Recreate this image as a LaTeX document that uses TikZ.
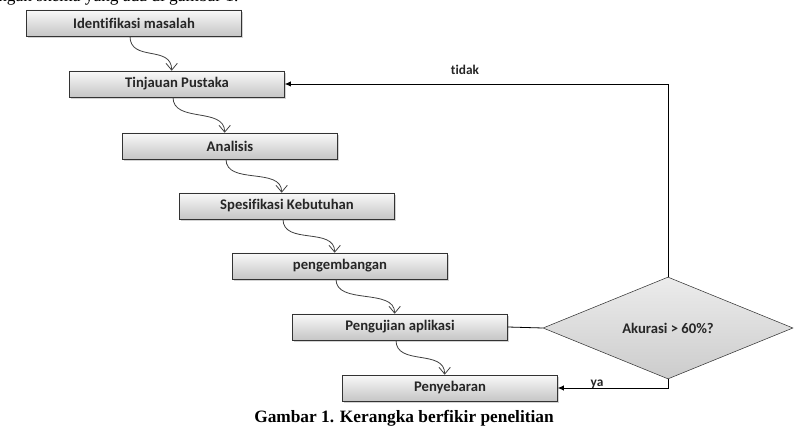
\documentclass[tikz,border=0pt]{standalone}
\usepackage{fontspec}
\setmainfont{Liberation Serif}
\newfontfamily\boxfont[Ligatures={NoCommon}]{Carlito}
\usetikzlibrary{shapes.geometric, arrows.meta, positioning, shadows}

\begin{document}
\begin{tikzpicture}[
    x=0.75pt, y=-0.75pt,
    stepbox/.style={rectangle, draw=black!80, top color=gray!5, bottom color=gray!45, minimum width=161.25pt, minimum height=19.5pt, font=\boxfont\bfseries\fontsize{11}{12}\selectfont, text=black!85, drop shadow={shadow xshift=1.2pt, shadow yshift=-1.2pt, opacity=0.35}},
    decision/.style={diamond, draw=black!80, top color=gray!15, bottom color=gray!40, minimum width=187.5pt, minimum height=46.5pt, inner sep=0pt, font=\boxfont\bfseries\fontsize{11}{12}\selectfont, text=black!85},
    flow/.style={-{Straight Barb[length=1.8mm, width=3mm]}, black!75, semithick},
    back/.style={-{Latex[length=1.6mm, width=1.4mm]}, black, semithick},
    lbl/.style={font=\boxfont\bfseries\fontsize{10}{12}\selectfont, text=black!85}
]
\useasboundingbox (0,0) rectangle (807,438);

% Text cut off at the top
\node[anchor=base west, inner sep=0pt, font=\fontsize{13}{15}\selectfont] (prev) at (-2,2) {ngan skema yang ada di gambar 1.};

% Steps
\node[stepbox] (id) at (134,23) {Identifikasi masalah};
\node[stepbox] (tp) at (177,84) {Tinjauan Pustaka};
\node[stepbox] (an) at (230,146) {Analisis};
\node[stepbox] (sk) at (287,206) {Spesifikasi Kebutuhan};
\node[stepbox] (pg) at (340,266) {pengembangan};
\node[stepbox] (pu) at (400,327) {Pengujian aplikasi};
\node[stepbox] (pb) at (450,388) {Penyebaran};

% Decision
\node[decision] (dec) at (668,328) {Akurasi > 60\%?};

% Curved arrows
\foreach \a/\b in {id/tp, tp/an, an/sk, sk/pg, pg/pu, pu/pb} {
    \draw[flow] ([xshift=-3pt]\a.south) .. controls +(0,26) and +(0,-26) .. ([xshift=-4pt]\b.north);
}

% Loop and exit
\draw[semithick] (pu.east) -- (dec.west);
\draw[back] (dec.north) |- (tp.east);
\draw[back] (dec.south) |- (pb.east);
\node[lbl] (no) at (465,70) {tidak};
\node[lbl] (yes) at (597,384) {ya};

% Caption
\node[font=\bfseries\fontsize{13}{15}\selectfont] (cap) at (404,418) {Gambar 1. Kerangka berfikir penelitian};

\end{tikzpicture}
\end{document}
